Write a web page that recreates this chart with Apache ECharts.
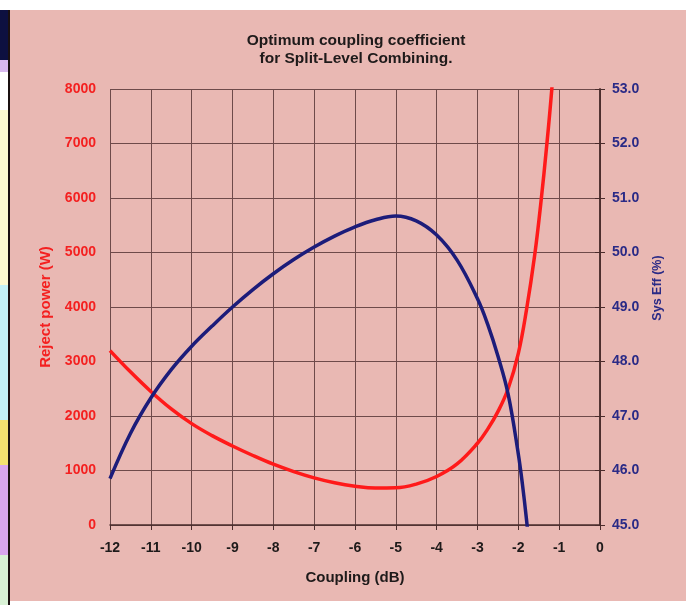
<!DOCTYPE html>
<html>
<head>
<meta charset="utf-8">
<script src="https://cdn.jsdelivr.net/npm/echarts@6/dist/echarts.min.js"></script>
<style>
  html, body { margin: 0; padding: 0; background: #fff; }
  #chart { width: 689px; height: 605px; }
</style>
</head>
<body>
<div id="chart"></div>
<script>
var couplingReject = [-12, -11.5, -11, -10.5, -10, -9.5, -9, -8.5, -8, -7.5, -7, -6.5, -6, -5.5, -5, -4.5, -4, -3.5, -3, -2.75, -2.5, -2.25, -2, -1.8, -1.6, -1.45, -1.3, -1.18, -1.06];
var rejectPower = [3200, 2810, 2450, 2130, 1860, 1640, 1450, 1275, 1115, 980, 865, 775, 712, 678, 682, 750, 890, 1120, 1500, 1760, 2080, 2500, 3150, 3950, 4950, 5900, 7000, 8000, 9200];

var couplingEff = [-12, -11.5, -11, -10.5, -10, -9.5, -9, -8.5, -8, -7.5, -7, -6.5, -6, -5.5, -5, -4.5, -4, -3.5, -3, -2.75, -2.5, -2.25, -2, -1.9, -1.8, -1.7];
var sysEff = [45.85, 46.68, 47.33, 47.85, 48.28, 48.65, 49.0, 49.32, 49.61, 49.87, 50.1, 50.3, 50.47, 50.6, 50.67, 50.58, 50.32, 49.86, 49.15, 48.68, 48.1, 47.4, 46.3, 45.75, 45.1, 44.35];

var titleLines = ['Optimum coupling coefficient', 'for Split-Level Combining.'];

function pairs(xs, ys) {
  return xs.map(function (x, i) { return [x, ys[i]]; });
}

var pink = '#e9b8b3';
var gridColor = '#6e4a4a';
var axisColor = '#4a2c2c';
var font = 'Liberation Sans';

var chart = echarts.init(document.getElementById('chart'));
chart.setOption({
  animation: false,
  backgroundColor: '#ffffff',
  graphic: [
    // page backdrop and the spreadsheet strip on the left edge
    { type: 'rect', z: -10, shape: { x: 9, y: 10, width: 677, height: 591 }, style: { fill: pink } },
    { type: 'rect', z: -9, shape: { x: 0, y: 10, width: 8, height: 50 }, style: { fill: '#0d1040' } },
    { type: 'rect', z: -9, shape: { x: 0, y: 60, width: 8, height: 12 }, style: { fill: '#d8b8ef' } },
    { type: 'rect', z: -9, shape: { x: 0, y: 72, width: 8, height: 38 }, style: { fill: '#ffffff' } },
    { type: 'rect', z: -9, shape: { x: 0, y: 110, width: 8, height: 175 }, style: { fill: '#fdfad0' } },
    { type: 'rect', z: -9, shape: { x: 0, y: 285, width: 8, height: 135 }, style: { fill: '#c4f2f6' } },
    { type: 'rect', z: -9, shape: { x: 0, y: 420, width: 8, height: 45 }, style: { fill: '#f3e070' } },
    { type: 'rect', z: -9, shape: { x: 0, y: 465, width: 8, height: 90 }, style: { fill: '#d9a6ee' } },
    { type: 'rect', z: -9, shape: { x: 0, y: 555, width: 8, height: 50 }, style: { fill: '#d9f2d6' } },
    { type: 'rect', z: -8, shape: { x: 8, y: 10, width: 2, height: 595 }, style: { fill: '#1a1010' } }
  ],
  title: {
    text: titleLines.join('\n'),
    left: 351,
    top: 27,
    textAlign: 'center',
    textStyle: { fontFamily: font, fontSize: 15.5, fontWeight: 'bold', color: '#1e1a1a', lineHeight: 18 }
  },
  grid: { left: 110, right: 89, top: 89, bottom: 80 },
  xAxis: {
    type: 'value',
    min: -12, max: 0, interval: 1,
    name: 'Coupling (dB)',
    nameLocation: 'middle',
    nameGap: 45,
    nameTextStyle: { fontFamily: font, fontSize: 15, fontWeight: 'bold', color: '#1e1a1a' },
    axisLine: { show: true, onZero: false, lineStyle: { color: axisColor, width: 1.5 } },
    axisTick: { show: true, length: 5, lineStyle: { color: axisColor } },
    axisLabel: { fontFamily: font, fontSize: 14, fontWeight: 'bold', color: '#1e1a1a', margin: 16 },
    splitLine: { show: true, lineStyle: { color: gridColor, width: 1 } }
  },
  yAxis: [
    {
      type: 'value',
      min: 0, max: 8000, interval: 1000,
      name: 'Reject power (W)',
      nameLocation: 'middle',
      nameRotate: 90,
      nameGap: 57,
      nameTextStyle: { fontFamily: font, fontSize: 15, fontWeight: 'bold', color: '#f42020' },
      axisLine: { show: true, lineStyle: { color: axisColor, width: 1.5 } },
      axisTick: { show: true, length: 5, lineStyle: { color: axisColor } },
      axisLabel: {
        fontFamily: font, fontSize: 14, fontWeight: 'bold', color: '#f42020', margin: 14,
        formatter: function (v) { return String(v); }
      },
      splitLine: { show: true, lineStyle: { color: gridColor, width: 1 } }
    },
    {
      type: 'value',
      min: 45, max: 53, interval: 1,
      position: 'right',
      name: 'Sys Eff (%)',
      nameLocation: 'middle',
      nameRotate: 90,
      nameGap: 51,
      nameTextStyle: {
        fontFamily: font, fontSize: 12.5, fontWeight: 'bold', color: '#2a2a86',
        padding: [0, 0, 0, 38]
      },
      axisLine: { show: true, lineStyle: { color: axisColor, width: 1.5 } },
      axisTick: { show: true, length: 5, lineStyle: { color: axisColor } },
      axisLabel: {
        fontFamily: font, fontSize: 14, fontWeight: 'bold', color: '#2a2a86', margin: 12,
        formatter: function (v) { return v.toFixed(1); }
      },
      splitLine: { show: false }
    }
  ],
  series: [
    {
      name: 'Reject power (W)',
      type: 'line',
      yAxisIndex: 0,
      data: pairs(couplingReject, rejectPower),
      smooth: 0.4,
      showSymbol: false,
      clip: true,
      lineStyle: { color: '#ff1a1a', width: 3.5 }
    },
    {
      name: 'Sys Eff (%)',
      type: 'line',
      yAxisIndex: 1,
      data: pairs(couplingEff, sysEff),
      smooth: 0.4,
      showSymbol: false,
      clip: true,
      lineStyle: { color: '#1c1c7a', width: 3.5 }
    }
  ]
});
</script>
</body>
</html>
